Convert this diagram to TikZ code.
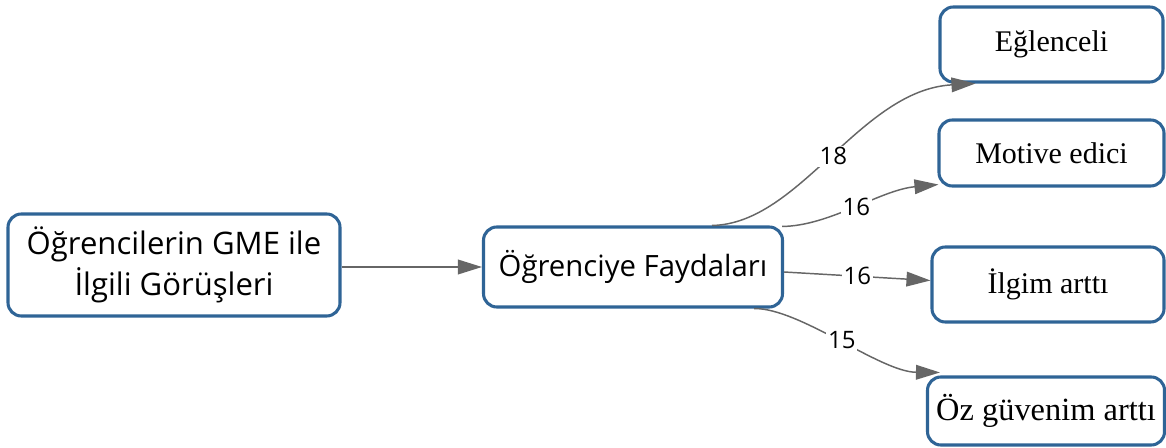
\documentclass[tikz,border=0pt]{standalone}
\usepackage{fontspec}
\setmainfont{Liberation Serif}
\newfontfamily\sansf{Open Sans}
\usetikzlibrary{arrows.meta,calc}
\definecolor{boxblue}{HTML}{2F6496}
\definecolor{edgegray}{HTML}{666666}
\tikzset{
  box/.style={draw=boxblue, line width=2.3pt, rounded corners=10pt, fill=white, align=center, inner sep=0pt},
  sansbox/.style={box, font=\sansf\fontsize{23.3}{31}\selectfont},
  serifbox/.style={box, font=\fontsize{22.5}{26}\selectfont},
  conn/.style={draw=edgegray, line width=1.1pt, -{Triangle[length=18pt,width=11pt]}},
  lbl/.style={fill=white, inner sep=1.5pt, text=black, font=\sansf\fontsize{18}{18}\selectfont},
  bw/.style={minimum width={0.75pt*#1}},
  bh/.style={minimum height={0.75pt*#1}}
}
\begin{document}
\begin{tikzpicture}[x=0.75pt,y=-0.75pt]
\useasboundingbox (0,0) rectangle (1166,448);
\node[sansbox, bw=332, bh=102] (src) at (174,265) {Öğrencilerin GME ile\\İlgili Görüşleri};
\node[sansbox, bw=299, bh=80, font=\sansf\fontsize{22}{28}\selectfont] (mid) at (633,267) {Öğrenciye Faydaları};
\node[serifbox, bw=223, bh=75] (egl) at (1051.5,44.5) {Eğlenceli};
\node[serifbox, bw=225, bh=66] (mot) at (1051.5,153) {Motive edici};
\node[serifbox, bw=232, bh=75] (ilg) at (1048,284.5) {İlgim arttı};
\node[serifbox, bw=237, bh=68, font=\fontsize{24.3}{28}\selectfont] (oz) at (1046,411) {Öz güvenim arttı};

\draw[conn] ($(src.east)+(0,2)$) -- (mid.west);
\draw[conn] ($(mid.north)+(79,0)$) .. controls (800,224) and (860,90) .. node[lbl, pos=0.5] {18} ($(egl.south west)+(37,0)$);
\draw[conn] ($(mid.north east)+(-2,1)$) .. controls (830,226) and (880,190) .. node[lbl, pos=0.5] {16} ($(mot.south west)+(1,-3)$);
\draw[conn] ($(mid.east)+(0,5)$) -- node[lbl, pos=0.5] {16} ($(ilg.west)+(0,-4)$);
\draw[conn] ($(mid.south east)+(-30,0)$) .. controls (800,308) and (880,372) .. node[lbl, pos=0.5] {15} ($(oz.north west)+(14,-3)$);
\end{tikzpicture}
\end{document}
